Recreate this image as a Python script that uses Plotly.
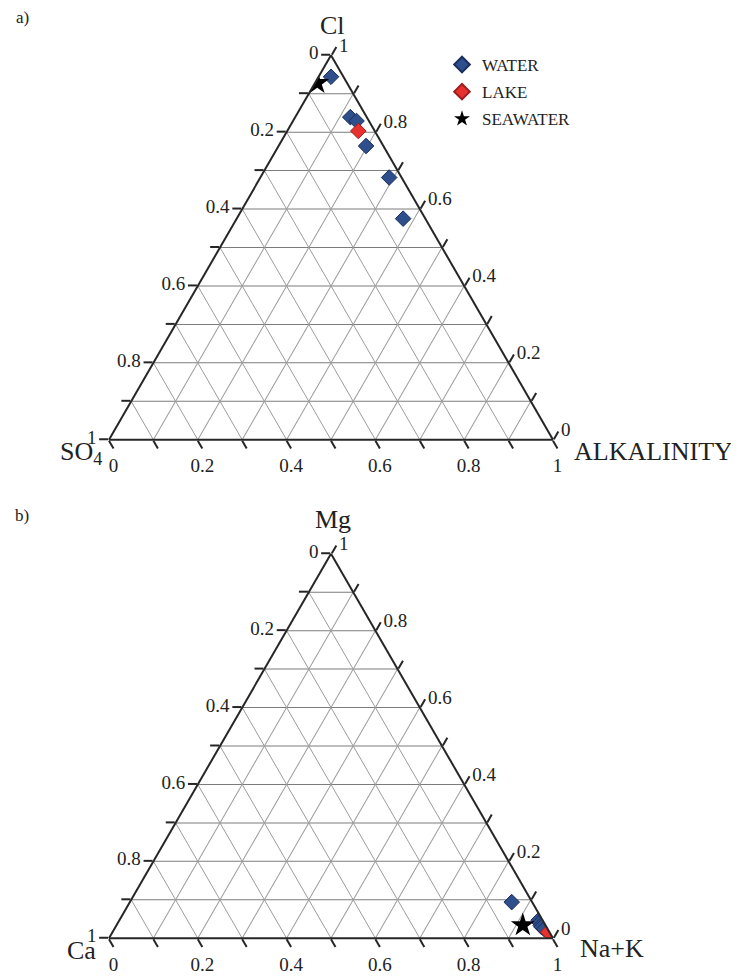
import plotly.graph_objects as go

# a) anions: Cl (top corner), SO4 (bottom-left), alkalinity (bottom-right)
water_cl = [0.944, 0.839, 0.829, 0.764, 0.682, 0.575]
water_so4 = [0.028, 0.037, 0.028, 0.039, 0.028, 0.050]
water_alk = [0.028, 0.124, 0.143, 0.197, 0.290, 0.375]

lake_cl = [0.803]
lake_so4 = [0.037]
lake_alk = [0.160]

sea_cl = [0.928]
sea_so4 = [0.067]
sea_alk = [0.005]

# b) cations: Mg (top corner), Ca (bottom-left), Na+K (bottom-right)
water_mg = [0.094, 0.047, 0.040, 0.033, 0.029, 0.024]
water_ca = [0.046, 0.009, 0.010, 0.011, 0.011, 0.008]
water_nak = [0.860, 0.944, 0.950, 0.956, 0.960, 0.968]

lake_mg = [0.016]
lake_ca = [0.003]
lake_nak = [0.981]

sea_mg = [0.034]
sea_ca = [0.051]
sea_nak = [0.915]

# every edge is labelled clockwise, so the text runs opposite to plotly's own values
tick_vals = [0, 0.1, 0.2, 0.3, 0.4, 0.5, 0.6, 0.7, 0.8, 0.9, 1]
tick_text = ['1', '', '0.8', '', '0.6', '', '0.4', '', '0.2', '', '0']

SERIF = 'Liberation Serif'
# the page body keeps its default 8px margin, so the figure is that much smaller
PAD = 8
W, H = 739 - PAD, 978 - PAD


def px(x):
    return (x - PAD) / W


def py(y):
    return 1 - (y - PAD) / H


water_marker = dict(symbol='diamond', size=12, color='#2F4E8C',
                    line=dict(color='#1B2F5E', width=1))
lake_marker = dict(symbol='diamond', size=12, color='#E8302E',
                   line=dict(color='#9B1C1C', width=1))
sea_marker = dict(symbol='star', size=18, color='black',
                  line=dict(color='black', width=0))

fig = go.Figure()

fig.add_trace(go.Scatterternary(a=water_cl, b=water_so4, c=water_alk, mode='markers',
                                name='WATER', legendgroup='w', marker=water_marker,
                                subplot='ternary'))
fig.add_trace(go.Scatterternary(a=lake_cl, b=lake_so4, c=lake_alk, mode='markers',
                                name='LAKE', legendgroup='l', marker=lake_marker,
                                subplot='ternary'))
fig.add_trace(go.Scatterternary(a=sea_cl, b=sea_so4, c=sea_alk, mode='markers',
                                name='SEAWATER', legendgroup='s', marker=sea_marker,
                                subplot='ternary'))

fig.add_trace(go.Scatterternary(a=water_mg, b=water_ca, c=water_nak, mode='markers',
                                name='WATER', marker=water_marker, showlegend=False,
                                subplot='ternary2'))
fig.add_trace(go.Scatterternary(a=sea_mg, b=sea_ca, c=sea_nak, mode='markers',
                                name='SEAWATER', marker=sea_marker, showlegend=False,
                                subplot='ternary2'))
fig.add_trace(go.Scatterternary(a=lake_mg, b=lake_ca, c=lake_nak, mode='markers',
                                name='LAKE', marker=lake_marker, showlegend=False,
                                subplot='ternary2'))


def axis(gridcolor):
    return dict(
        tickmode='array', tickvals=tick_vals, ticktext=tick_text,
        ticks='outside', ticklen=9, tickwidth=1.5, tickcolor='#262626',
        linecolor='#262626', linewidth=2,
        showgrid=True, gridcolor=gridcolor, gridwidth=1.2,
        tickfont=dict(family=SERIF, size=19, color='#222222'),
        title=dict(text=''), tickangle=0,
    )


def ternary(cy):
    # triangle from x=109 to x=553 px of the page, centred vertically on cy
    return dict(
        sum=1, bgcolor='white',
        domain=dict(x=[px(109), px(553)], y=[py(cy + 200), py(cy - 200)]),
        aaxis=axis('#7c7c7c'), baxis=axis('#9c9c9c'), caxis=axis('#9c9c9c'),
    )


def label(text, x, y, size=26, xanchor='center'):
    return dict(text=text, x=px(x), y=py(y), xref='paper', yref='paper',
                xanchor=xanchor, yanchor='middle', showarrow=False,
                font=dict(family=SERIF, size=size, color='#222222'))


fig.update_layout(
    width=W, height=H,
    margin=dict(l=0, r=0, t=0, b=0),
    paper_bgcolor='white',
    ternary=ternary(247.5),
    ternary2=ternary(746),
    showlegend=True,
    legend=dict(x=px(442), y=py(47), xanchor='left', yanchor='top',
                font=dict(family=SERIF, size=17, color='#222222'),
                bgcolor='rgba(0,0,0,0)', tracegroupgap=2, itemsizing='constant'),
    annotations=[
        label('a)', 22, 18, size=17),
        label('Cl', 332, 25),
        label('SO<sub>4</sub>', 104, 453, xanchor='right'),
        label('ALKALINITY', 572, 452, xanchor='left'),
        label('b)', 22, 515, size=17),
        label('Mg', 333, 519),
        label('Ca', 98, 950, xanchor='right'),
        label('Na+K', 578, 948, xanchor='left'),
    ],
)

fig.write_html('out.html')
